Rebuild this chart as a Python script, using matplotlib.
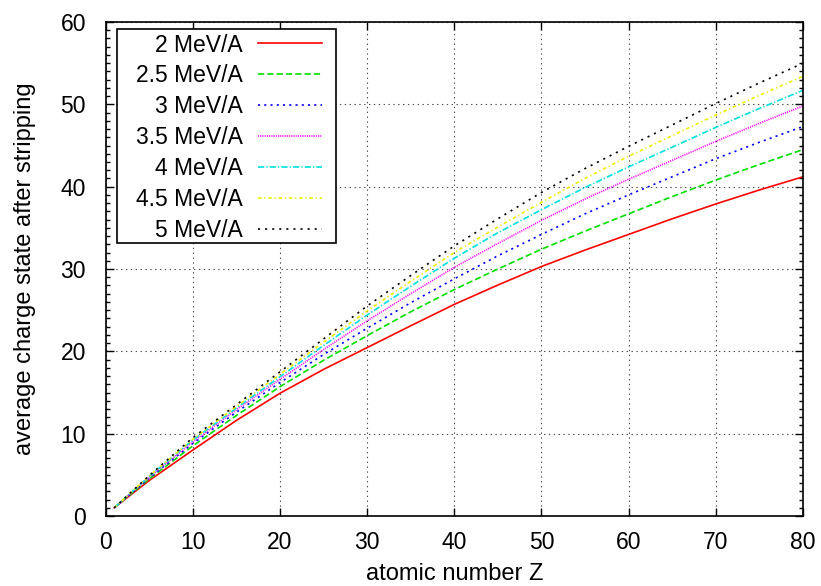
import matplotlib
matplotlib.use("Agg")
import matplotlib.pyplot as plt
from matplotlib.ticker import MultipleLocator
from matplotlib.patches import Rectangle

plt.rcParams['font.family'] = ['Liberation Sans', 'DejaVu Sans']
plt.rcParams['lines.scale_dashes'] = False

Z = [1, 5, 10, 15, 20, 25, 30, 35, 40, 45, 50, 55, 60, 65, 70, 75, 80]
labels = ["2 MeV/A", "2.5 MeV/A", "3 MeV/A", "3.5 MeV/A", "4 MeV/A", "4.5 MeV/A", "5 MeV/A"]
q_2_0 = [1.0, 4.3, 8.0, 11.6, 14.9, 17.8, 20.45, 23.1, 25.7, 28.05, 30.3, 32.3, 34.2, 36.1, 37.9, 39.6, 41.2]
q_2_5 = [1.0, 4.5, 8.5, 12.2, 15.7, 18.9, 21.9, 24.8, 27.5, 30.0, 32.4, 34.6, 36.7, 38.8, 40.8, 42.7, 44.5]
q_3_0 = [1.0, 4.6, 8.8, 12.6, 16.2, 19.6, 22.8, 25.9, 28.8, 31.6, 34.2, 36.7, 39.0, 41.2, 43.4, 45.4, 47.3]
q_3_5 = [1.0, 4.7, 9.0, 12.9, 16.6, 20.2, 23.7, 27.0, 30.2, 33.1, 35.9, 38.5, 40.9, 43.2, 45.5, 47.7, 49.8]
q_4_0 = [1.0, 4.8, 9.2, 13.1, 16.9, 20.7, 24.4, 27.9, 31.3, 34.4, 37.2, 39.9, 42.4, 44.8, 47.2, 49.5, 51.7]
q_4_5 = [1.0, 4.85, 9.3, 13.3, 17.2, 21.1, 24.9, 28.5, 32.0, 35.1, 38.1, 41.0, 43.7, 46.2, 48.7, 51.1, 53.4]
q_5_0 = [1.0, 4.9, 9.5, 13.5, 17.5, 21.5, 25.5, 29.2, 32.8, 36.1, 39.3, 42.2, 44.9, 47.5, 50.1, 52.6, 55.0]
series = [q_2_0, q_2_5, q_3_0, q_3_5, q_4_0, q_4_5, q_5_0]

colors = ['#ff0000', '#00e000', '#0000ff', '#ff00ff', '#00e0e0', '#eeee00', '#000000']
styles = ['-', (0, (4.5, 2.2)), (0, (1.5, 3.0)), (0, (0.8, 0.8)),
          (0, (4.5, 1.5, 0.9, 1.5)), (0, (2.5, 2.0, 0.9, 2.0)), (0, (1.5, 3.6))]

FS = 16.5
FSL = 17

fig = plt.figure(figsize=(8.21, 5.86), dpi=100)
ax = fig.add_axes([105.5 / 821, 1 - 516 / 586, (803 - 105.5) / 821, (516 - 22) / 586])

for ys, lab, c, ls in zip(series, labels, colors, styles):
    ax.plot(Z, ys, color=c, linestyle=ls, linewidth=1.2, label=lab)

ax.set_xlim(0, 80)
ax.set_ylim(0, 60)
ax.xaxis.set_major_locator(MultipleLocator(10))
ax.yaxis.set_major_locator(MultipleLocator(10))
ax.yaxis.set_minor_locator(MultipleLocator(1))
ax.tick_params(which='both', direction='in', top=True, right=True, labelsize=FS, width=1.0, colors='black')
ax.tick_params(which='major', length=6)
ax.tick_params(axis='x', which='major', pad=11)
ax.tick_params(axis='y', which='major', pad=14)
ax.tick_params(which='minor', length=3)
ax.tick_params(axis='x', which='minor', bottom=False, top=False)
for s in ax.spines.values():
    s.set_linewidth(1.2)
ax.grid(True, which='major', color='0.3', linestyle=(0, (1, 2.5)), linewidth=0.8)
ax.set_axisbelow(True)

ax.set_xlabel("atomic number Z", fontsize=FSL, labelpad=6)
ax.set_ylabel("average charge state after stripping", fontsize=FSL, labelpad=18)

# legend frame (gnuplot-style box)
box = Rectangle((0.0165, 0.5526), 0.314, 0.4332, transform=ax.transAxes,
                facecolor='white', edgecolor='black', linewidth=1.2, zorder=4.5)
ax.add_patch(box)

leg = ax.legend(loc='upper right', bbox_to_anchor=(0.3104, 0.9767), borderaxespad=0,
                markerfirst=False, frameon=False,
                fontsize=FS, handlelength=2.8, labelspacing=0.345, handletextpad=0.65,
                borderpad=0.0)
leg.set_zorder(5)

fig.savefig("out.png", dpi=100)
